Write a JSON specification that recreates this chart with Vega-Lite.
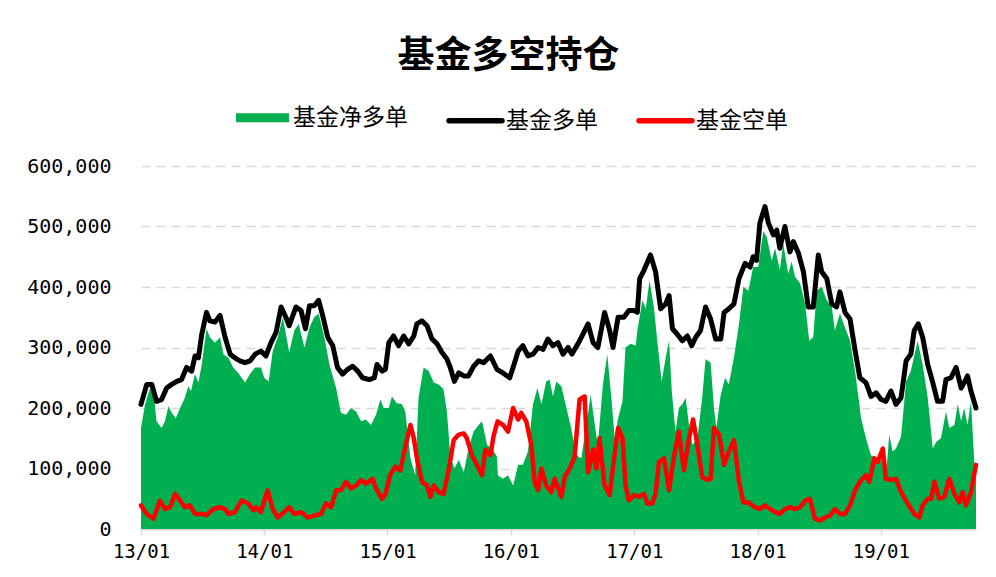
{
  "$schema": "https://vega.github.io/schema/vega-lite/v6.json",
  "width": 835,
  "height": 363,
  "autosize": "none",
  "padding": {"left": 141, "top": 166, "right": 20, "bottom": 48},
  "background": "#ffffff",
  "title": {"text": "基金多空持仓", "font": "Noto Sans CJK SC", "fontSize": 37, "fontWeight": "bold", "color": "#000000", "anchor": "middle", "dx": -50, "offset": 30},
  "config": {"view": {"stroke": null}},
  "datasets": {
    "long": [
      {"date":"2013-01-01","value":206000},{"date":"2013-01-18","value":239000},{"date":"2013-02-02","value":239000},{"date":"2013-02-16","value":211000},{"date":"2013-03-03","value":214000},{"date":"2013-03-18","value":233000},{"date":"2013-04-02","value":239000},{"date":"2013-04-17","value":244000},{"date":"2013-05-01","value":247000},{"date":"2013-05-16","value":267000},{"date":"2013-05-31","value":261000},{"date":"2013-06-10","value":286000},{"date":"2013-06-20","value":283000},{"date":"2013-06-30","value":322000},{"date":"2013-07-14","value":358000},{"date":"2013-07-24","value":344000},{"date":"2013-08-08","value":342000},{"date":"2013-08-23","value":353000},{"date":"2013-09-07","value":317000},{"date":"2013-09-22","value":289000},{"date":"2013-10-06","value":283000},{"date":"2013-10-21","value":278000},{"date":"2013-11-05","value":275000},{"date":"2013-11-20","value":278000},{"date":"2013-12-05","value":289000},{"date":"2013-12-22","value":294000},
      {"date":"2014-01-06","value":286000},{"date":"2014-01-21","value":308000},{"date":"2014-02-05","value":325000},{"date":"2014-02-20","value":367000},{"date":"2014-03-06","value":350000},{"date":"2014-03-16","value":336000},{"date":"2014-04-05","value":367000},{"date":"2014-04-20","value":361000},{"date":"2014-05-03","value":331000},{"date":"2014-05-15","value":369000},{"date":"2014-05-29","value":369000},{"date":"2014-06-11","value":378000},{"date":"2014-06-23","value":353000},{"date":"2014-07-08","value":317000},{"date":"2014-07-23","value":303000},{"date":"2014-08-06","value":267000},{"date":"2014-08-21","value":256000},{"date":"2014-09-05","value":264000},{"date":"2014-09-20","value":269000},{"date":"2014-10-05","value":261000},{"date":"2014-10-19","value":250000},{"date":"2014-11-08","value":247000},{"date":"2014-11-23","value":250000},{"date":"2014-12-01","value":272000},{"date":"2014-12-16","value":261000},{"date":"2014-12-26","value":264000},
      {"date":"2015-01-05","value":308000},{"date":"2015-01-19","value":319000},{"date":"2015-02-03","value":303000},{"date":"2015-02-18","value":319000},{"date":"2015-03-05","value":306000},{"date":"2015-03-20","value":319000},{"date":"2015-03-29","value":339000},{"date":"2015-04-13","value":344000},{"date":"2015-04-28","value":336000},{"date":"2015-05-13","value":314000},{"date":"2015-05-28","value":306000},{"date":"2015-06-11","value":292000},{"date":"2015-06-26","value":281000},{"date":"2015-07-06","value":267000},{"date":"2015-07-18","value":244000},{"date":"2015-07-31","value":258000},{"date":"2015-08-15","value":253000},{"date":"2015-08-29","value":253000},{"date":"2015-09-13","value":269000},{"date":"2015-09-28","value":278000},{"date":"2015-10-13","value":275000},{"date":"2015-11-02","value":286000},{"date":"2015-11-21","value":264000},{"date":"2015-12-09","value":258000},{"date":"2015-12-29","value":250000},
      {"date":"2016-01-08","value":267000},{"date":"2016-01-23","value":294000},{"date":"2016-02-06","value":303000},{"date":"2016-02-21","value":286000},{"date":"2016-03-07","value":289000},{"date":"2016-03-22","value":300000},{"date":"2016-04-06","value":297000},{"date":"2016-04-20","value":314000},{"date":"2016-05-05","value":303000},{"date":"2016-05-20","value":308000},{"date":"2016-06-04","value":289000},{"date":"2016-06-19","value":300000},{"date":"2016-06-30","value":289000},{"date":"2016-07-18","value":306000},{"date":"2016-08-02","value":322000},{"date":"2016-08-17","value":339000},{"date":"2016-09-01","value":308000},{"date":"2016-09-15","value":300000},{"date":"2016-10-05","value":358000},{"date":"2016-10-20","value":328000},{"date":"2016-10-30","value":300000},{"date":"2016-11-14","value":350000},{"date":"2016-12-01","value":350000},{"date":"2016-12-16","value":361000},{"date":"2016-12-31","value":361000},
      {"date":"2017-01-10","value":358000},{"date":"2017-01-17","value":414000},{"date":"2017-01-30","value":428000},{"date":"2017-02-18","value":453000},{"date":"2017-03-05","value":425000},{"date":"2017-03-20","value":364000},{"date":"2017-04-04","value":372000},{"date":"2017-04-14","value":386000},{"date":"2017-04-24","value":331000},{"date":"2017-05-08","value":322000},{"date":"2017-05-23","value":311000},{"date":"2017-06-07","value":319000},{"date":"2017-06-20","value":303000},{"date":"2017-07-02","value":317000},{"date":"2017-07-16","value":328000},{"date":"2017-07-31","value":367000},{"date":"2017-08-15","value":347000},{"date":"2017-08-30","value":314000},{"date":"2017-09-14","value":314000},{"date":"2017-09-24","value":358000},{"date":"2017-10-08","value":364000},{"date":"2017-10-23","value":372000},{"date":"2017-11-07","value":414000},{"date":"2017-11-25","value":439000},{"date":"2017-12-10","value":433000},{"date":"2017-12-19","value":450000},{"date":"2017-12-29","value":444000},
      {"date":"2018-01-08","value":506000},{"date":"2018-01-23","value":533000},{"date":"2018-02-02","value":506000},{"date":"2018-02-17","value":486000},{"date":"2018-02-27","value":494000},{"date":"2018-03-08","value":464000},{"date":"2018-03-23","value":500000},{"date":"2018-04-07","value":458000},{"date":"2018-04-17","value":475000},{"date":"2018-05-02","value":456000},{"date":"2018-05-17","value":425000},{"date":"2018-05-31","value":367000},{"date":"2018-06-15","value":367000},{"date":"2018-06-30","value":453000},{"date":"2018-07-10","value":425000},{"date":"2018-07-25","value":414000},{"date":"2018-08-09","value":372000},{"date":"2018-08-23","value":367000},{"date":"2018-09-02","value":392000},{"date":"2018-09-17","value":358000},{"date":"2018-10-02","value":347000},{"date":"2018-10-17","value":295000},{"date":"2018-10-31","value":250000},{"date":"2018-11-18","value":242000},{"date":"2018-12-03","value":219000},{"date":"2018-12-18","value":225000},
      {"date":"2019-01-02","value":214000},{"date":"2019-01-16","value":211000},{"date":"2019-01-31","value":228000},{"date":"2019-02-15","value":206000},{"date":"2019-03-02","value":217000},{"date":"2019-03-17","value":278000},{"date":"2019-03-31","value":289000},{"date":"2019-04-10","value":328000},{"date":"2019-04-22","value":339000},{"date":"2019-05-05","value":317000},{"date":"2019-05-20","value":272000},{"date":"2019-06-04","value":242000},{"date":"2019-06-18","value":211000},{"date":"2019-07-03","value":211000},{"date":"2019-07-13","value":247000},{"date":"2019-07-28","value":250000},{"date":"2019-08-12","value":267000},{"date":"2019-08-27","value":233000},{"date":"2019-09-07","value":244000},{"date":"2019-09-15","value":253000},{"date":"2019-09-25","value":228000},{"date":"2019-10-10","value":200000}
    ],
    "short": [
      {"date":"2013-01-01","value":39000},{"date":"2013-01-18","value":25000},{"date":"2013-02-07","value":17000},{"date":"2013-02-26","value":47000},{"date":"2013-03-13","value":33000},{"date":"2013-03-28","value":36000},{"date":"2013-04-12","value":58000},{"date":"2013-04-27","value":47000},{"date":"2013-05-11","value":36000},{"date":"2013-05-26","value":39000},{"date":"2013-06-10","value":25000},{"date":"2013-06-30","value":25000},{"date":"2013-07-14","value":23000},{"date":"2013-08-03","value":33000},{"date":"2013-08-23","value":36000},{"date":"2013-09-07","value":33000},{"date":"2013-09-17","value":25000},{"date":"2013-10-06","value":28000},{"date":"2013-10-26","value":47000},{"date":"2013-11-15","value":42000},{"date":"2013-11-30","value":31000},{"date":"2013-12-08","value":36000},{"date":"2013-12-22","value":28000},
      {"date":"2014-01-11","value":64000},{"date":"2014-01-26","value":33000},{"date":"2014-02-10","value":19000},{"date":"2014-03-01","value":28000},{"date":"2014-03-16","value":36000},{"date":"2014-03-31","value":25000},{"date":"2014-04-20","value":28000},{"date":"2014-05-10","value":19000},{"date":"2014-05-29","value":22000},{"date":"2014-06-18","value":25000},{"date":"2014-07-03","value":42000},{"date":"2014-07-18","value":36000},{"date":"2014-08-02","value":64000},{"date":"2014-08-16","value":64000},{"date":"2014-08-31","value":78000},{"date":"2014-09-15","value":67000},{"date":"2014-09-30","value":72000},{"date":"2014-10-15","value":81000},{"date":"2014-10-29","value":75000},{"date":"2014-11-18","value":83000},{"date":"2014-11-28","value":67000},{"date":"2014-12-16","value":50000},{"date":"2014-12-26","value":58000},
      {"date":"2015-01-09","value":89000},{"date":"2015-01-24","value":103000},{"date":"2015-02-08","value":97000},{"date":"2015-02-23","value":136000},{"date":"2015-03-10","value":172000},{"date":"2015-03-20","value":150000},{"date":"2015-03-29","value":117000},{"date":"2015-04-13","value":78000},{"date":"2015-04-28","value":72000},{"date":"2015-05-08","value":53000},{"date":"2015-05-18","value":72000},{"date":"2015-06-02","value":61000},{"date":"2015-06-16","value":58000},{"date":"2015-07-01","value":97000},{"date":"2015-07-16","value":147000},{"date":"2015-07-31","value":156000},{"date":"2015-08-15","value":158000},{"date":"2015-08-24","value":150000},{"date":"2015-09-08","value":122000},{"date":"2015-09-23","value":106000},{"date":"2015-10-08","value":89000},{"date":"2015-10-18","value":131000},{"date":"2015-11-02","value":122000},{"date":"2015-11-11","value":153000},{"date":"2015-11-23","value":178000},{"date":"2015-12-09","value":172000},{"date":"2015-12-24","value":161000},
      {"date":"2016-01-08","value":200000},{"date":"2016-01-23","value":181000},{"date":"2016-02-01","value":192000},{"date":"2016-02-16","value":178000},{"date":"2016-03-02","value":139000},{"date":"2016-03-12","value":78000},{"date":"2016-03-22","value":64000},{"date":"2016-04-01","value":100000},{"date":"2016-04-15","value":72000},{"date":"2016-04-30","value":61000},{"date":"2016-05-10","value":83000},{"date":"2016-05-30","value":53000},{"date":"2016-06-09","value":86000},{"date":"2016-06-24","value":100000},{"date":"2016-07-08","value":119000},{"date":"2016-07-23","value":214000},{"date":"2016-08-07","value":219000},{"date":"2016-08-17","value":94000},{"date":"2016-09-01","value":131000},{"date":"2016-09-11","value":100000},{"date":"2016-09-20","value":150000},{"date":"2016-10-05","value":72000},{"date":"2016-10-20","value":56000},{"date":"2016-10-30","value":103000},{"date":"2016-11-14","value":167000},{"date":"2016-11-27","value":150000},{"date":"2016-12-06","value":72000},{"date":"2016-12-16","value":47000},{"date":"2016-12-31","value":56000},
      {"date":"2017-01-15","value":53000},{"date":"2017-01-30","value":58000},{"date":"2017-02-09","value":42000},{"date":"2017-02-23","value":42000},{"date":"2017-03-05","value":58000},{"date":"2017-03-15","value":111000},{"date":"2017-03-30","value":117000},{"date":"2017-04-14","value":64000},{"date":"2017-04-29","value":122000},{"date":"2017-05-13","value":161000},{"date":"2017-05-28","value":97000},{"date":"2017-06-12","value":150000},{"date":"2017-06-24","value":181000},{"date":"2017-07-07","value":139000},{"date":"2017-07-21","value":86000},{"date":"2017-08-05","value":81000},{"date":"2017-08-15","value":83000},{"date":"2017-08-25","value":167000},{"date":"2017-09-09","value":156000},{"date":"2017-09-24","value":106000},{"date":"2017-10-08","value":128000},{"date":"2017-10-23","value":147000},{"date":"2017-11-07","value":78000},{"date":"2017-11-20","value":44000},{"date":"2017-12-05","value":44000},{"date":"2017-12-24","value":36000},
      {"date":"2018-01-08","value":33000},{"date":"2018-01-23","value":39000},{"date":"2018-02-07","value":33000},{"date":"2018-02-22","value":28000},{"date":"2018-03-08","value":25000},{"date":"2018-03-23","value":33000},{"date":"2018-04-07","value":36000},{"date":"2018-04-22","value":33000},{"date":"2018-05-07","value":36000},{"date":"2018-05-22","value":47000},{"date":"2018-06-05","value":50000},{"date":"2018-06-20","value":17000},{"date":"2018-07-05","value":14000},{"date":"2018-07-20","value":19000},{"date":"2018-08-04","value":22000},{"date":"2018-08-18","value":33000},{"date":"2018-09-02","value":25000},{"date":"2018-09-17","value":25000},{"date":"2018-10-02","value":39000},{"date":"2018-10-17","value":64000},{"date":"2018-10-31","value":78000},{"date":"2018-11-18","value":89000},{"date":"2018-11-28","value":78000},{"date":"2018-12-13","value":117000},{"date":"2018-12-23","value":111000},
      {"date":"2019-01-07","value":133000},{"date":"2019-01-16","value":83000},{"date":"2019-01-31","value":81000},{"date":"2019-02-15","value":83000},{"date":"2019-03-02","value":61000},{"date":"2019-03-22","value":42000},{"date":"2019-04-10","value":25000},{"date":"2019-04-25","value":19000},{"date":"2019-05-05","value":39000},{"date":"2019-05-20","value":50000},{"date":"2019-05-30","value":50000},{"date":"2019-06-09","value":78000},{"date":"2019-06-23","value":50000},{"date":"2019-07-08","value":53000},{"date":"2019-07-23","value":83000},{"date":"2019-08-07","value":58000},{"date":"2019-08-22","value":44000},{"date":"2019-08-31","value":61000},{"date":"2019-09-10","value":39000},{"date":"2019-09-25","value":61000},{"date":"2019-10-10","value":106000}
    ],
    "net": [
      {"date":"2013-01-01","value":167000},{"date":"2013-01-13","value":206000},{"date":"2013-01-28","value":233000},{"date":"2013-02-07","value":228000},{"date":"2013-02-16","value":178000},{"date":"2013-03-03","value":167000},{"date":"2013-03-13","value":178000},{"date":"2013-03-23","value":203000},{"date":"2013-04-02","value":192000},{"date":"2013-04-14","value":183000},{"date":"2013-04-27","value":200000},{"date":"2013-05-11","value":217000},{"date":"2013-05-21","value":236000},{"date":"2013-05-29","value":228000},{"date":"2013-06-10","value":256000},{"date":"2013-06-20","value":242000},{"date":"2013-06-30","value":272000},{"date":"2013-07-14","value":331000},{"date":"2013-07-24","value":317000},{"date":"2013-08-08","value":308000},{"date":"2013-08-23","value":317000},{"date":"2013-09-02","value":289000},{"date":"2013-09-17","value":283000},{"date":"2013-10-01","value":267000},{"date":"2013-10-16","value":258000},{"date":"2013-11-05","value":242000},{"date":"2013-11-20","value":256000},{"date":"2013-12-05","value":267000},{"date":"2013-12-22","value":267000},
      {"date":"2014-01-01","value":250000},{"date":"2014-01-14","value":244000},{"date":"2014-01-26","value":294000},{"date":"2014-02-10","value":317000},{"date":"2014-02-25","value":350000},{"date":"2014-03-16","value":292000},{"date":"2014-03-31","value":328000},{"date":"2014-04-13","value":339000},{"date":"2014-04-30","value":300000},{"date":"2014-05-15","value":333000},{"date":"2014-05-29","value":350000},{"date":"2014-06-11","value":356000},{"date":"2014-06-28","value":317000},{"date":"2014-07-13","value":272000},{"date":"2014-08-02","value":233000},{"date":"2014-08-16","value":192000},{"date":"2014-08-31","value":189000},{"date":"2014-09-15","value":200000},{"date":"2014-09-30","value":194000},{"date":"2014-10-15","value":178000},{"date":"2014-10-29","value":181000},{"date":"2014-11-13","value":172000},{"date":"2014-11-28","value":189000},{"date":"2014-12-11","value":214000},{"date":"2014-12-21","value":200000},
      {"date":"2015-01-05","value":200000},{"date":"2015-01-14","value":219000},{"date":"2015-01-29","value":208000},{"date":"2015-02-13","value":206000},{"date":"2015-02-23","value":194000},{"date":"2015-03-10","value":117000},{"date":"2015-03-24","value":89000},{"date":"2015-04-03","value":217000},{"date":"2015-04-18","value":267000},{"date":"2015-05-03","value":261000},{"date":"2015-05-18","value":242000},{"date":"2015-06-02","value":239000},{"date":"2015-06-16","value":231000},{"date":"2015-06-26","value":194000},{"date":"2015-07-06","value":122000},{"date":"2015-07-18","value":100000},{"date":"2015-07-31","value":114000},{"date":"2015-08-15","value":94000},{"date":"2015-08-29","value":133000},{"date":"2015-09-13","value":161000},{"date":"2015-09-28","value":172000},{"date":"2015-10-08","value":178000},{"date":"2015-10-23","value":139000},{"date":"2015-11-07","value":133000},{"date":"2015-11-21","value":120000},{"date":"2015-11-24","value":89000},{"date":"2015-12-09","value":83000},{"date":"2015-12-24","value":89000},
      {"date":"2016-01-08","value":72000},{"date":"2016-01-23","value":106000},{"date":"2016-02-06","value":106000},{"date":"2016-02-21","value":128000},{"date":"2016-03-07","value":206000},{"date":"2016-03-20","value":233000},{"date":"2016-04-01","value":206000},{"date":"2016-04-15","value":244000},{"date":"2016-04-25","value":247000},{"date":"2016-05-05","value":219000},{"date":"2016-05-15","value":244000},{"date":"2016-05-30","value":236000},{"date":"2016-06-14","value":200000},{"date":"2016-06-28","value":167000},{"date":"2016-07-13","value":122000},{"date":"2016-07-28","value":117000},{"date":"2016-08-12","value":172000},{"date":"2016-08-25","value":222000},{"date":"2016-09-06","value":172000},{"date":"2016-09-15","value":139000},{"date":"2016-09-30","value":239000},{"date":"2016-10-13","value":289000},{"date":"2016-10-25","value":217000},{"date":"2016-11-04","value":150000},{"date":"2016-11-14","value":183000},{"date":"2016-11-27","value":211000},{"date":"2016-12-06","value":300000},{"date":"2016-12-21","value":306000},
      {"date":"2017-01-05","value":303000},{"date":"2017-01-10","value":328000},{"date":"2017-01-25","value":378000},{"date":"2017-02-04","value":364000},{"date":"2017-02-15","value":411000},{"date":"2017-02-28","value":367000},{"date":"2017-03-10","value":311000},{"date":"2017-03-23","value":244000},{"date":"2017-04-04","value":283000},{"date":"2017-04-14","value":311000},{"date":"2017-04-22","value":228000},{"date":"2017-05-03","value":161000},{"date":"2017-05-13","value":200000},{"date":"2017-05-23","value":206000},{"date":"2017-06-02","value":217000},{"date":"2017-06-12","value":172000},{"date":"2017-06-22","value":139000},{"date":"2017-07-07","value":150000},{"date":"2017-07-21","value":217000},{"date":"2017-07-31","value":281000},{"date":"2017-08-15","value":275000},{"date":"2017-08-25","value":200000},{"date":"2017-09-01","value":167000},{"date":"2017-09-14","value":222000},{"date":"2017-09-27","value":250000},{"date":"2017-10-08","value":239000},{"date":"2017-10-23","value":283000},{"date":"2017-11-07","value":339000},{"date":"2017-11-20","value":400000},{"date":"2017-12-05","value":394000},{"date":"2017-12-19","value":433000},
      {"date":"2018-01-03","value":433000},{"date":"2018-01-18","value":492000},{"date":"2018-01-28","value":483000},{"date":"2018-02-12","value":444000},{"date":"2018-02-22","value":464000},{"date":"2018-03-08","value":428000},{"date":"2018-03-18","value":472000},{"date":"2018-04-02","value":422000},{"date":"2018-04-12","value":442000},{"date":"2018-04-22","value":417000},{"date":"2018-05-07","value":406000},{"date":"2018-05-22","value":372000},{"date":"2018-06-03","value":311000},{"date":"2018-06-15","value":317000},{"date":"2018-06-25","value":394000},{"date":"2018-07-10","value":400000},{"date":"2018-07-25","value":378000},{"date":"2018-08-09","value":367000},{"date":"2018-08-18","value":328000},{"date":"2018-09-02","value":356000},{"date":"2018-09-17","value":333000},{"date":"2018-10-02","value":311000},{"date":"2018-10-17","value":260000},{"date":"2018-10-31","value":200000},{"date":"2018-11-03","value":185000},{"date":"2018-11-18","value":150000},{"date":"2018-12-03","value":122000},{"date":"2018-12-18","value":117000},
      {"date":"2019-01-02","value":117000},{"date":"2019-01-16","value":83000},{"date":"2019-01-26","value":156000},{"date":"2019-02-05","value":128000},{"date":"2019-02-15","value":133000},{"date":"2019-03-02","value":153000},{"date":"2019-03-17","value":244000},{"date":"2019-03-31","value":261000},{"date":"2019-04-20","value":311000},{"date":"2019-05-05","value":272000},{"date":"2019-05-20","value":217000},{"date":"2019-06-04","value":133000},{"date":"2019-06-14","value":144000},{"date":"2019-06-28","value":150000},{"date":"2019-07-13","value":194000},{"date":"2019-07-23","value":167000},{"date":"2019-08-07","value":172000},{"date":"2019-08-17","value":206000},{"date":"2019-08-27","value":178000},{"date":"2019-09-05","value":200000},{"date":"2019-09-15","value":172000},{"date":"2019-09-25","value":211000},{"date":"2019-10-05","value":111000},{"date":"2019-10-10","value":94000}
    ]
  },
  "encoding": {
    "x": {
      "field": "date", "type": "temporal",
      "scale": {"type": "utc", "domain": [{"year": 2013, "month": 1, "date": 1, "utc": true}, {"year": 2019, "month": 10, "date": 10, "utc": true}]},
      "axis": {
        "title": null,
        "values": [{"year": 2013, "month": 1, "date": 1, "utc": true}, {"year": 2014, "month": 1, "date": 1, "utc": true}, {"year": 2015, "month": 1, "date": 1, "utc": true}, {"year": 2016, "month": 1, "date": 1, "utc": true}, {"year": 2017, "month": 1, "date": 1, "utc": true}, {"year": 2018, "month": 1, "date": 1, "utc": true}, {"year": 2019, "month": 1, "date": 1, "utc": true}],
        "format": "%y/%m",
        "labelFont": "DejaVu Sans Mono", "labelFontSize": 19, "labelColor": "#000000", "labelPadding": 7,
        "domainColor": "#d9d9d9", "domainWidth": 2, "tickColor": "#d9d9d9", "tickWidth": 1.5, "tickSize": 6,
        "grid": false, "labelFlush": false
      }
    },
    "y": {
      "field": "value", "type": "quantitative",
      "scale": {"domain": [0, 600000], "nice": false},
      "axis": {
        "title": null, "values": [0, 100000, 200000, 300000, 400000, 500000, 600000], "format": ",d",
        "labelFont": "DejaVu Sans Mono", "labelFontSize": 20, "labelColor": "#000000", "labelPadding": 30,
        "domain": false, "ticks": false, "grid": true, "gridColor": "#d9d9d9", "gridDash": [9, 6], "gridWidth": 1.5
      }
    },
    "color": {
      "field": "series", "type": "nominal",
      "scale": {"domain": ["基金净多单", "基金多单", "基金空单"], "range": ["#00B050", "#000000", "#FF0000"]},
      "legend": {
        "title": null, "orient": "none", "legendX": 110, "legendY": -60, "direction": "horizontal",
        "symbolType": "stroke", "symbolSize": 2800, "symbolStrokeWidth": 5,
        "labelFont": "Noto Sans CJK SC", "labelFontSize": 23, "labelColor": "#000000", "labelOffset": 19,
        "columnPadding": 30,
        "encode": {
          "symbols": {
            "update": {
              "stroke": {"scale": "color", "field": "value"},
              "strokeWidth": {"signal": "datum.value === '基金净多单' ? 9 : 5.5"},
              "strokeCap": {"signal": "datum.value === '基金净多单' ? 'butt' : 'round'"}
            }
          }
        }
      }
    }
  },
  "layer": [
    {
      "data": {"name": "net"},
      "transform": [{"calculate": "'基金净多单'", "as": "series"}],
      "mark": {"type": "area", "opacity": 1}
    },
    {
      "data": {"name": "long"},
      "transform": [{"calculate": "'基金多单'", "as": "series"}],
      "mark": {"type": "line", "strokeWidth": 5, "strokeJoin": "round", "strokeCap": "round"}
    },
    {
      "data": {"name": "short"},
      "transform": [{"calculate": "'基金空单'", "as": "series"}],
      "mark": {"type": "line", "strokeWidth": 4.5, "strokeJoin": "round", "strokeCap": "round"}
    }
  ]
}
